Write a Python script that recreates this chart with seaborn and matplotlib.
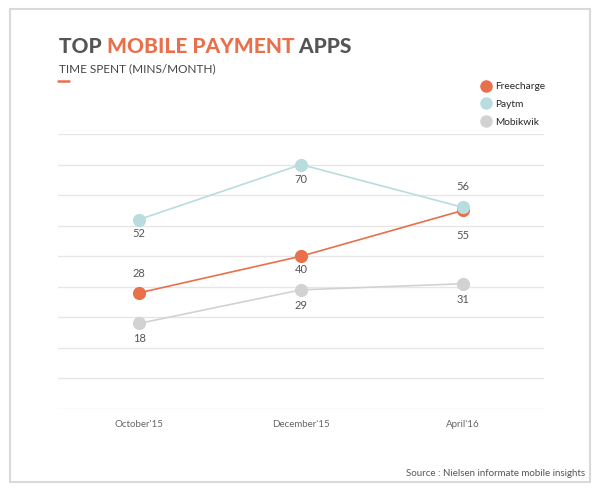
import pandas as pd
import seaborn as sns
import matplotlib.pyplot as plt
from matplotlib.lines import Line2D
from matplotlib.patches import Rectangle

# Data
months = ["October'15", "December'15", "April'16"]
freecharge = [28, 40, 55]
paytm = [52, 70, 56]
mobikwik = [18, 29, 31]

apps = ['Freecharge', 'Paytm', 'Mobikwik']
colors = {'Freecharge': '#E8704A', 'Paytm': '#B9DCDE', 'Mobikwik': '#D2D2D2'}

# label offsets in pixels (dy) for each point
label_dy = {
    'Freecharge': [19, -13, -25],
    'Paytm': [-14, -15, 21],
    'Mobikwik': [-15, -16, -16],
}

df = pd.DataFrame({
    'month': months * 3,
    'x': [0, 1, 2] * 3,
    'app': ['Freecharge'] * 3 + ['Paytm'] * 3 + ['Mobikwik'] * 3,
    'minutes': freecharge + paytm + mobikwik,
})

sns.set_theme(style='white')
plt.rcParams['font.family'] = ['Lato', 'DejaVu Sans']

fig = plt.figure(figsize=(6.01, 4.91), dpi=100)
ax = fig.add_axes([58 / 601, 1 - 409 / 491, 486 / 601, 275 / 491])

# outer frame
fig.patches.append(Rectangle((10 / 601, 1 - 482 / 491), 580 / 601, 473 / 491,
                             transform=fig.transFigure, fill=False,
                             edgecolor='#D9D9D9', linewidth=1.5))

# draw order: mobikwik, freecharge, paytm on top
for app in ['Mobikwik', 'Freecharge', 'Paytm']:
    sub = df[df['app'] == app]
    sns.lineplot(data=sub, x='x', y='minutes', ax=ax, color=colors[app],
                 marker='o', markersize=9.5, markeredgewidth=0,
                 linewidth=1.2, legend=False)
    for (xi, yi), dy in zip(zip(sub['x'], sub['minutes']), label_dy[app]):
        ax.annotate(str(yi), (xi, yi), xytext=(0, dy), textcoords='offset pixels',
                    ha='center', va='center', fontsize=8, color='#555555')

ax.set_xlim(-0.5, 2.5)
ax.set_ylim(-10, 80)
ax.set_yticks(range(-10, 81, 10))
ax.set_yticklabels([])
ax.set_xticks([0, 1, 2])
ax.set_xticklabels(months, fontsize=7, color='#666666')
ax.tick_params(axis='both', length=0)
ax.tick_params(axis='x', pad=8)
ax.grid(axis='y', color='#E6E6E6', linewidth=1)
ax.set_xlabel('')
ax.set_ylabel('')
for s in ax.spines.values():
    s.set_visible(False)

# title in two colours
fig.canvas.draw()
renderer = fig.canvas.get_renderer()
x0 = 59 / 601
ty = 1 - 53 / 491
parts = [('TOP ', '#555555'), ('MOBILE PAYMENT', '#E8704A'), (' APPS', '#555555')]
for txt, col in parts:
    t = fig.text(x0, ty, txt, fontsize=15, fontweight='black', color=col,
                 ha='left', va='baseline')
    bb = t.get_window_extent(renderer)
    x0 += bb.width / fig.bbox.width

fig.text(59 / 601, 1 - 72 / 491, 'TIME SPENT (MINS/MONTH)', fontsize=8.5,
         color='#444444', ha='left', va='baseline')
fig.add_artist(Line2D([58 / 601, 69 / 601], [1 - 80.5 / 491, 1 - 80.5 / 491],
                      transform=fig.transFigure, color='#E8704A', linewidth=1.8))

# legend
handles = [Line2D([], [], linestyle='none', marker='o', markersize=9,
                  markeredgewidth=0, color=colors[a]) for a in apps]
fig.legend(handles, apps, loc='upper left', bbox_to_anchor=(480 / 601, 1 - 82 / 491),
           frameon=False, fontsize=7.3, handletextpad=0.3, labelspacing=0.85,
           handlelength=1.2, borderaxespad=0, borderpad=0)

fig.text(585 / 601, 1 - 476 / 491, 'Source : Nielsen informate mobile insights',
         fontsize=7, color='#555555', ha='right', va='baseline')

fig.savefig('out.png', dpi=100, facecolor='white')
